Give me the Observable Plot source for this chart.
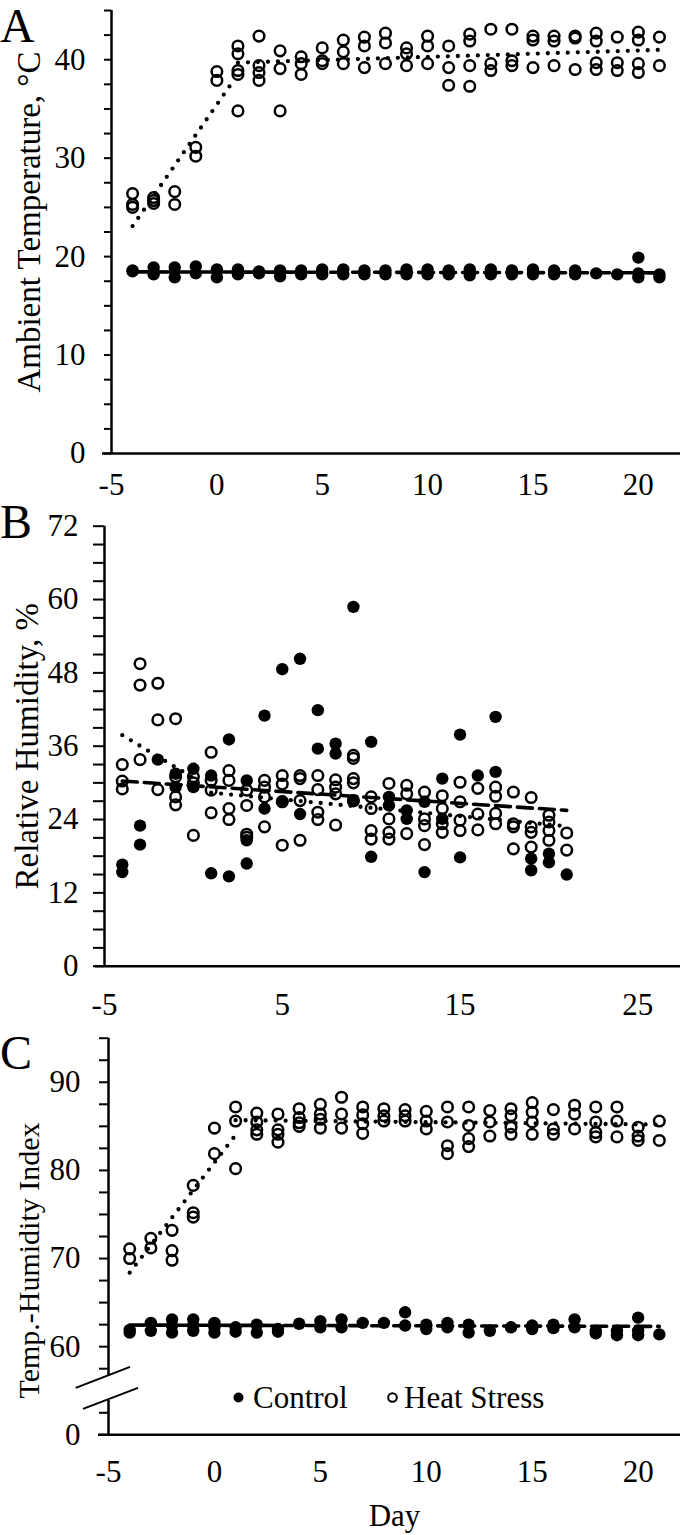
<!DOCTYPE html>
<html><head><meta charset="utf-8">
<script src="https://cdn.jsdelivr.net/npm/d3@7"></script>
<script src="https://cdn.jsdelivr.net/npm/@observablehq/plot@0.6"></script>
<style>
html,body{margin:0;padding:0;background:#fff;}
#fig{position:relative;width:680px;height:1535px;overflow:hidden;background:#fff;}
.panel{position:absolute;left:0;}
#overlay{position:absolute;left:0;top:0;pointer-events:none;}
</style></head><body>
<div id="fig"></div>
<script>
// ---------------- data ----------------
const days = [-4,-3,-2,-1,0,1,2,3,4,5,6,7,8,9,10,11,12,13,14,15,16,17,18,19,20,21];

// Panel A: Ambient temperature, °C
const tempHeat = [
  [26.4,25.3,25.0],[26.0,25.7,25.4],[26.6,25.3],[31.1,30.2],[38.8,37.9],
  [41.4,40.6,38.9,38.5,34.8],[42.4,39.4,38.7,37.9],[40.9,39.1,34.8],[40.3,39.6,38.5],[41.2,39.9,39.6],
  [42.0,40.8,39.6],[42.3,41.4,39.2],[42.7,41.7,39.6],[41.2,40.6,39.4],[42.4,41.4,39.6],
  [41.4,39.2,37.4],[42.6,41.9,39.4,37.3],[43.1,39.6,38.9],[43.1,39.9,39.4],[42.4,42.0,39.2],
  [42.4,41.9,39.4],[42.4,42.2,39.0],[42.7,41.9,39.7,39.0],[42.3,39.7,38.9],[42.8,42.0,39.6,38.7],
  [42.3,39.4]
];
const tempControl = [
  [18.6,18.5],[18.9,18.2],[18.9,17.9],[19.0,18.3],[18.7,17.9],
  [18.7,18.2],[18.5,18.3],[18.6,18.0],[18.6,18.2],[18.7,18.2],
  [18.7,18.2],[18.6,18.2],[18.6,18.2],[18.7,18.2],[18.7,18.2],
  [18.6,18.2],[18.7,18.1],[18.7,18.2],[18.6,18.2],[18.7,18.2],
  [18.6,18.2],[18.6,18.2],[18.3],[18.2],[19.9,18.3,17.9],
  [18.2,17.9]
];
const tempHeatTrendPre = [[-4,23.1],[0.6,37.3]];
const tempHeatTrendPost = [[1,39.7],[21,41.0]];
const tempControlTrend = [[-4,18.45],[21,18.35]];

// Panel B: Relative humidity, %
const rhHeat = [
  [33.0,30.3,29.0],[49.5,46.0,33.8],[46.3,40.3,28.9],[40.5,31.0,27.7,26.4],[31.0,30.0,21.4],
  [35.0,30.4,28.8,25.1],[32.0,30.4,25.8,24.0],[28.8,26.3,21.6,21.1],[30.4,29.3,27.7,22.8],[31.2,29.8,26.9,19.8],
  [31.2,30.7,27.1,20.6],[31.2,28.9,25.2,24.0],[30.5,29.3,28.2,23.1],[34.5,34.0,30.7,30.0,27.1],[27.7,25.8,22.2,20.8],
  [29.9,24.1,21.9,20.8],[29.6,28.2,21.7],[28.5,24.1,23.0,19.9],[27.9,25.8,23.3,21.9],[30.1,26.9,23.9,22.2],
  [29.1,24.9,22.3],[29.3,27.8,25.0,23.3],[28.5,23.3,22.8,19.2],[27.6,22.8,21.9,19.5],[24.7,23.6,22.2,20.6],
  [21.8,19.0]
];
const rhControl = [
  [16.6,15.4],[23.0,19.9],[33.8],[31.5,29.3],[32.3,29.3],
  [31.2,15.2],[37.1,14.7],[30.4,20.6,16.8],[41.0,25.8],[48.6,27.0],
  [50.3,24.9],[41.9,35.6],[36.4,34.8],[58.8,27.0],[36.7,17.9],
  [27.7,26.3],[25.5,24.1],[26.9,15.4],[30.7,24.1],[37.9,17.8],
  [31.2],[40.8,31.8],[],[17.6,15.7],[18.4,17.0],
  [15.0]
];
const rhHeatTrendPre = [[-4,37.8],[0.3,30.3]];
const rhHeatTrendPost = [[1,28.4],[21,22.9]];
const rhControlTrend = [[-4,30.3],[21,25.5]];

// Panel C: Temperature-humidity index
const thiHeat = [
  [71.1,70.0],[72.3,71.2],[73.2,70.9,69.8],[78.3,75.2,74.7],[84.8,81.9],
  [87.2,85.6,80.2],[86.5,85.5,84.6,84.1],[86.4,84.6,84.1,83.2],[87.0,86.0,85.4,85.0],[87.5,86.4,85.8,84.8],
  [88.3,86.4,84.8],[87.2,86.3,85.3,84.2],[87.0,86.2,85.6],[86.9,86.2,85.6],[86.7,85.6,84.7],
  [87.2,85.5,82.8,81.9],[87.2,85.1,83.6,82.7],[86.8,85.5,83.9],[87.0,86.2,84.9,84.1],[87.7,86.6,85.5,84.1],
  [86.9,84.7,84.1],[87.4,86.4,84.7],[87.2,85.5,84.3,83.8],[87.2,85.6,83.8],[84.9,83.9,83.4],
  [85.6,83.4]
];
const thiControl = [
  [61.9,61.6],[62.7,61.8],[63.1,62.4,61.6],[63.1,62.4,61.8],[62.7,62.2,61.6],
  [62.2,61.7],[62.5,61.6],[62.0,61.7],[62.6],[62.9,62.2],
  [63.1,62.2],[62.7],[62.7],[63.9,62.4],[62.5,62.0],
  [62.7,62.2],[62.5,61.6],[61.8],[62.2],[62.4,62.0],
  [62.5,62.1],[63.1,62.2],[61.8,61.5],[61.8,61.3],[63.3,61.8,61.3],
  [61.4]
];
const thiHeatTrendPre = [[-4,68.4],[0.9,83.7]];
const thiHeatTrendPost = [[1,85.7],[21,85.2]];
const thiControlTrend = [[-4,62.45],[21,62.3]];

// tick labels
const dayTicksAC = [-5,0,5,10,15,20];
const dayTicksB = [-5,5,15,25];
const tempLabels = [0,10,20,30,40];
const rhLabels = [0,12,24,36,48,60,72];
const thiLabels = [0,60,70,80,90];
const legendLabels = ["Control","Heat Stress"];
const panelLetters = ["A","B","C"];
const yTitles = ["Ambient Temperature, \u00B0C","Relative Humidity, %","Temp.-Humidity Index"];
const xTitle = "Day";

// ---------------- drawing ----------------
const FONT = "'Liberation Serif','Times New Roman',serif";
const fig = document.getElementById("fig");
const ident = v => v;

function flat(vals, map){ return days.flatMap((d,i)=>vals[i].map(v=>({day:d,value:map(v)}))); }
function segs(list, map){ return list.flatMap((seg,k)=>seg.map(([day,value])=>({day,value:map(value),seg:k}))); }

function makePanel(c){
  const map = c.map || ident, unmap = c.unmap || ident;
  const heat = flat(c.heat, map), ctrl = flat(c.control, map);
  const tHeat = segs(c.heatTrend, map);
  const tCtrl = segs([c.ctrlTrend], map);
  const chart = Plot.plot({
    width: 680, height: c.height,
    marginTop: c.mt, marginBottom: c.mb, marginLeft: c.ml, marginRight: 0,
    style: {fontFamily: FONT, fontSize: "31px", color: "black", background: "none", overflow: "visible"},
    x: {domain: c.xDomain},
    y: {domain: c.yDomain},
    marks: [
      Plot.ruleY([0], {stroke: "black", strokeWidth: 2.5, insetLeft: -c.xExt}),
      Plot.ruleX(c.axisSegs, {x: "x", y1: d => map(d.lo), y2: d => map(d.hi), stroke: "black", strokeWidth: 2.5}),
      Plot.axisY({ticks: c.yTicks.map(map), tickFormat: d => { const o = +unmap(d).toFixed(2); return c.yLabels.includes(o) ? String(o) : ""; },
        tickSize: c.tickSize, tickPadding: c.tickPad, strokeWidth: 2, label: null, fill: "black", stroke: "black"}),
      Plot.axisX({ticks: c.xTicks, tickFormat: d => String(d), tickSize: 0, tickPadding: c.xPad, label: null, fill: "black"}),
      Plot.dot(ctrl, {x: "day", y: "value", r: 6.2, fill: "black"}),
      Plot.dot(heat, {x: "day", y: "value", r: 5.3, fill: "none", stroke: "black", strokeWidth: 2.5}),
      Plot.line(tCtrl, {x: "day", y: "value", z: "seg", stroke: "black", strokeWidth: 3.6, strokeDasharray: "15 7"}),
      Plot.line(tHeat, {x: "day", y: "value", z: "seg", stroke: "black", strokeWidth: 4.3, strokeDasharray: "0 10", strokeLinecap: "round"}),
      Plot.text([c.title], {frameAnchor: "left", textAnchor: "middle", lineAnchor: "middle", rotate: -90, dx: c.tdx, dy: c.tdy, fontSize: c.tfs, fill: "black"}),
      ...(c.extra || [])
    ]
  });
  const wrap = document.createElement("div");
  wrap.className = "panel";
  wrap.style.top = c.top + "px";
  wrap.appendChild(chart);
  fig.appendChild(wrap);
  return chart;
}

// Panel A
makePanel({
  top: 0, height: 505, mt: 10, mb: 52, ml: 111,
  xDomain: [-5,22], xTicks: dayTicksAC, xPad: 19, xExt: 9,
  yDomain: [0,45], yTicks: d3.range(0,45.01,2.5), yLabels: tempLabels,
  tickSize: 7, tickPad: 19,
  axisSegs: [{x:-5, lo:0, hi:45}],
  heat: tempHeat, control: tempControl,
  heatTrend: [tempHeatTrendPre, tempHeatTrendPost], ctrlTrend: tempControlTrend,
  title: yTitles[0], tdx: -82, tdy: -10, tfs: 33
});

// Panel B
makePanel({
  top: 505, height: 525, mt: 20.7, mb: 64.3, ml: 104,
  xDomain: [-5,27.4], xTicks: dayTicksB, xPad: 27, xExt: 9,
  yDomain: [0,72], yTicks: d3.range(0,72.01,3), yLabels: rhLabels,
  tickSize: 11, tickPad: 15,
  axisSegs: [{x:-5, lo:0, hi:72}],
  heat: rhHeat, control: rhControl,
  heatTrend: [rhHeatTrendPre, rhHeatTrendPost], ctrlTrend: rhControlTrend,
  title: yTitles[1], tdx: -77, tdy: 0, tfs: 33
});

// Panel C: broken y axis, values from 55 upward are shifted down by 50
const cChart = makePanel({
  top: 1030, height: 505, mt: 7.7, mb: 100.7, ml: 108,
  xDomain: [-5,22], xTicks: dayTicksAC, xPad: 25, xExt: 10,
  map: v => (v >= 30 ? v - 50 : v), unmap: t => (t >= 5 ? t + 50 : t),
  yDomain: [0,45],
  yTicks: [0,2.5].concat(d3.range(57.5,95.01,2.5)), yLabels: thiLabels,
  tickSize: 9, tickPad: 19,
  axisSegs: [{x:-5, lo:0, hi:3.9},{x:-5, lo:56.7, hi:95}],
  heat: thiHeat, control: thiControl,
  heatTrend: [thiHeatTrendPre, thiHeatTrendPost], ctrlTrend: thiControlTrend,
  title: yTitles[2], tdx: -79, tdy: 24, tfs: 30,
  extra: [Plot.text([xTitle], {frameAnchor: "bottom", lineAnchor: "middle", dy: 81, fontSize: 31, fill: "black"})]
});

// axis break marks, anchored on the C scales (at the gap between 5 and 55)
{
  const x0 = cChart.scale("x").apply(-5);
  const yb = cChart.scale("y").apply(5);
  const svg = d3.select(cChart);
  const marks = [[[-32.3,-2.3],[22,-23.3]],[[-25,18.7],[30,-2.3]]];
  marks.forEach(([a,b]) => svg.append("line")
    .attr("x1", x0+a[0]).attr("y1", yb+a[1]).attr("x2", x0+b[0]).attr("y2", yb+b[1])
    .attr("stroke","black").attr("stroke-width",2));
}

// overlay: panel letters and legend
{
  const ov = d3.select(fig).append("svg").attr("id","overlay").attr("width",680).attr("height",1535)
    .style("font-family", FONT);
  const letterBase = [42, 538, 1069];
  panelLetters.forEach((t,i)=> ov.append("text").attr("x",0).attr("y",letterBase[i])
    .attr("font-size",48).attr("fill","black").text(t));
  ov.append("circle").attr("cx",238.5).attr("cy",1397.5).attr("r",5).attr("fill","black");
  ov.append("text").attr("x",253).attr("y",1408).attr("font-size",31).attr("fill","black").text(legendLabels[0]);
  ov.append("circle").attr("cx",392.5).attr("cy",1397.5).attr("r",4.3).attr("fill","none").attr("stroke","black").attr("stroke-width",2);
  ov.append("text").attr("x",404).attr("y",1408).attr("font-size",31).attr("fill","black").text(legendLabels[1]);
}
</script>
</body></html>
